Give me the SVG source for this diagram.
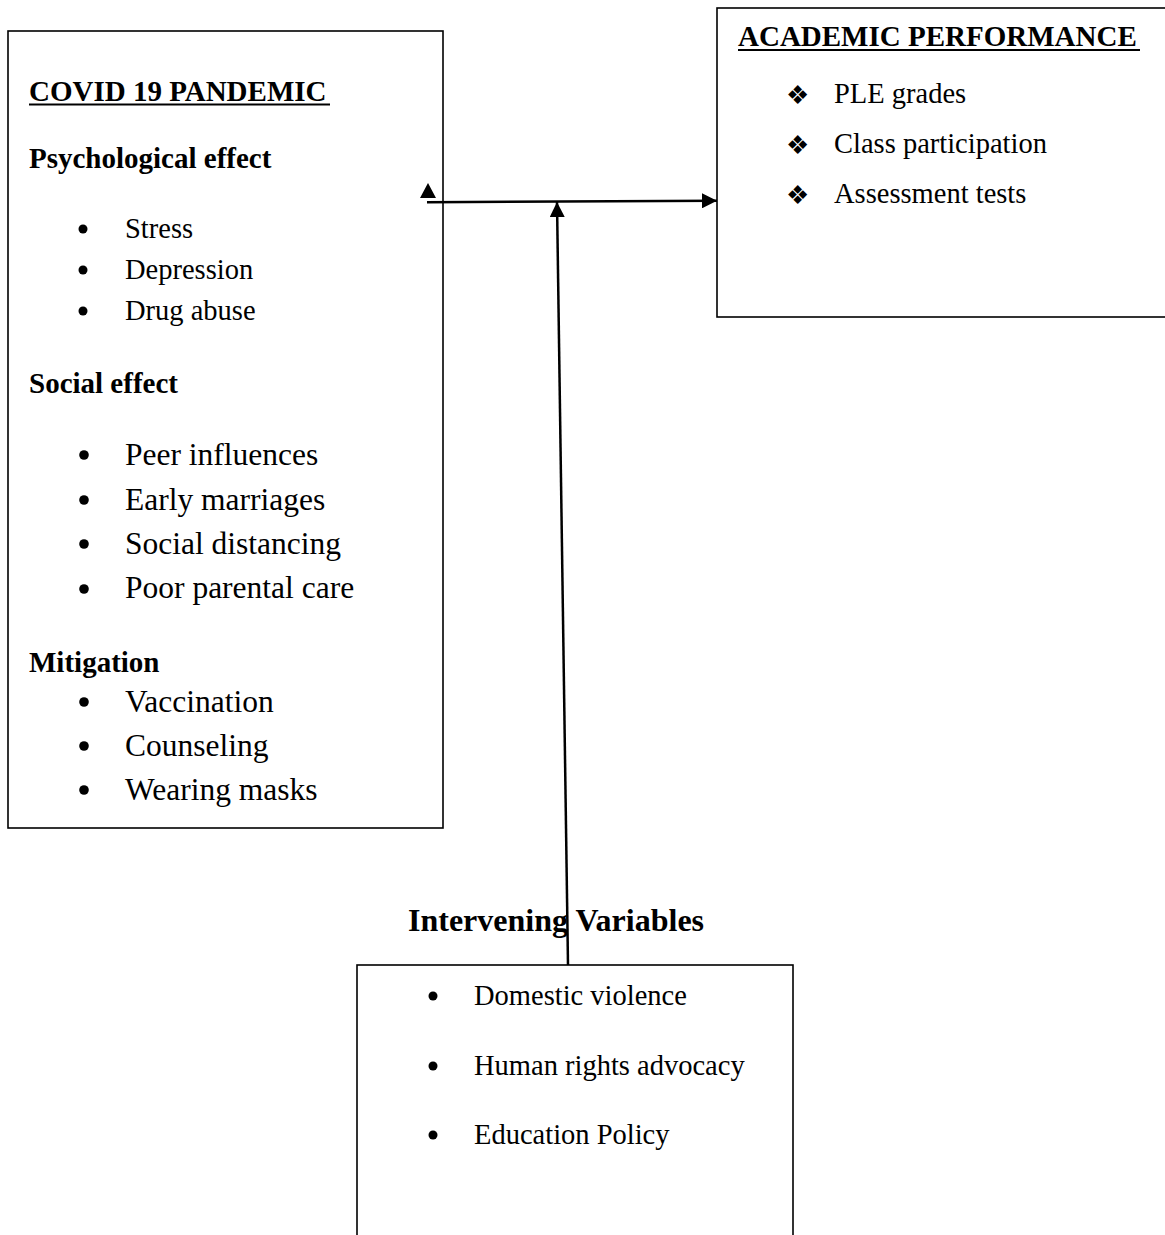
<svg xmlns="http://www.w3.org/2000/svg" width="1165" height="1235" viewBox="0 0 1165 1235">
<style>
.box{fill:#fff;stroke:#000;stroke-width:1.6}
.t{font-family:"Liberation Serif","Times New Roman",serif;fill:#000}
.b{font-weight:bold}
.s28{font-size:28.5px}
.s31{font-size:31.5px}
.s29{font-size:29px}
.dia{font-family:"DejaVu Sans",sans-serif;font-size:26px;fill:#000}
.ln{stroke:#000;stroke-width:2.5;fill:none}
</style>
<defs>
<marker id="ah" viewBox="0 0 15 15" refX="15" refY="7.5" markerWidth="15" markerHeight="15" markerUnits="userSpaceOnUse" orient="auto">
<path d="M0,0 L15,7.5 L0,15 Z" fill="#000"/>
</marker>
</defs>
<rect width="1165" height="1235" fill="#fff"/>
<g id="covid">
<rect class="box" x="8" y="31" width="435" height="797"/>
<text class="t b s29" x="29" y="101">COVID 19 PANDEMIC</text>
<line x1="29" y1="104.5" x2="330" y2="104.5" stroke="#000" stroke-width="2"/>
<text class="t b s29" x="29" y="168">Psychological effect</text>
<circle cx="83" cy="229" r="4.5"/><text class="t s28" x="125" y="238">Stress</text>
<circle cx="83" cy="270" r="4.5"/><text class="t s28" x="125" y="279">Depression</text>
<circle cx="83" cy="311" r="4.5"/><text class="t s28" x="125" y="320">Drug abuse</text>
<text class="t b s29" x="29" y="393">Social effect</text>
<circle cx="84" cy="455" r="4.8"/><text class="t s31" x="125" y="465">Peer influences</text>
<circle cx="84" cy="500" r="4.8"/><text class="t s31" x="125" y="510">Early marriages</text>
<circle cx="84" cy="544" r="4.8"/><text class="t s31" x="125" y="554">Social distancing</text>
<circle cx="84" cy="589" r="4.8"/><text class="t s31" x="125" y="598">Poor parental care</text>
<text class="t b s29" x="29" y="672">Mitigation</text>
<circle cx="84" cy="702" r="4.8"/><text class="t s31" x="125" y="712">Vaccination</text>
<circle cx="84" cy="746" r="4.8"/><text class="t s31" x="125" y="756">Counseling</text>
<circle cx="84" cy="790" r="4.8"/><text class="t s31" x="125" y="800">Wearing masks</text>
</g>
<g id="academic">
<rect class="box" x="717" y="8" width="460" height="309"/>
<text class="t b s29" x="738" y="46">ACADEMIC PERFORMANCE</text>
<line x1="738" y1="50" x2="1140" y2="50" stroke="#000" stroke-width="2"/>
<text class="dia" x="786" y="104">❖</text><text class="t s28" x="834" y="103">PLE grades</text>
<text class="dia" x="786" y="154">❖</text><text class="t s28" x="834" y="153">Class participation</text>
<text class="dia" x="786" y="204">❖</text><text class="t s28" x="834" y="203">Assessment tests</text>
</g>
<g id="intervening">
<text class="t b" x="408" y="931" font-size="32">Intervening Variables</text>
<rect class="box" x="357" y="965" width="436" height="290"/>
<circle cx="433" cy="996" r="4.5"/><text class="t s28" x="474" y="1005">Domestic violence</text>
<circle cx="433" cy="1066" r="4.5"/><text class="t s28" x="474" y="1075">Human rights advocacy</text>
<circle cx="433" cy="1135" r="4.5"/><text class="t s28" x="474" y="1144">Education Policy</text>
</g>
<g id="connectors">
<line class="ln" x1="427" y1="202.3" x2="717" y2="200.7" marker-end="url(#ah)"/>
<line class="ln" x1="568" y1="965" x2="557" y2="202" marker-end="url(#ah)"/>
<path d="M428,183 L436,198 L420,198 Z" fill="#000"/>
</g>
</svg>
